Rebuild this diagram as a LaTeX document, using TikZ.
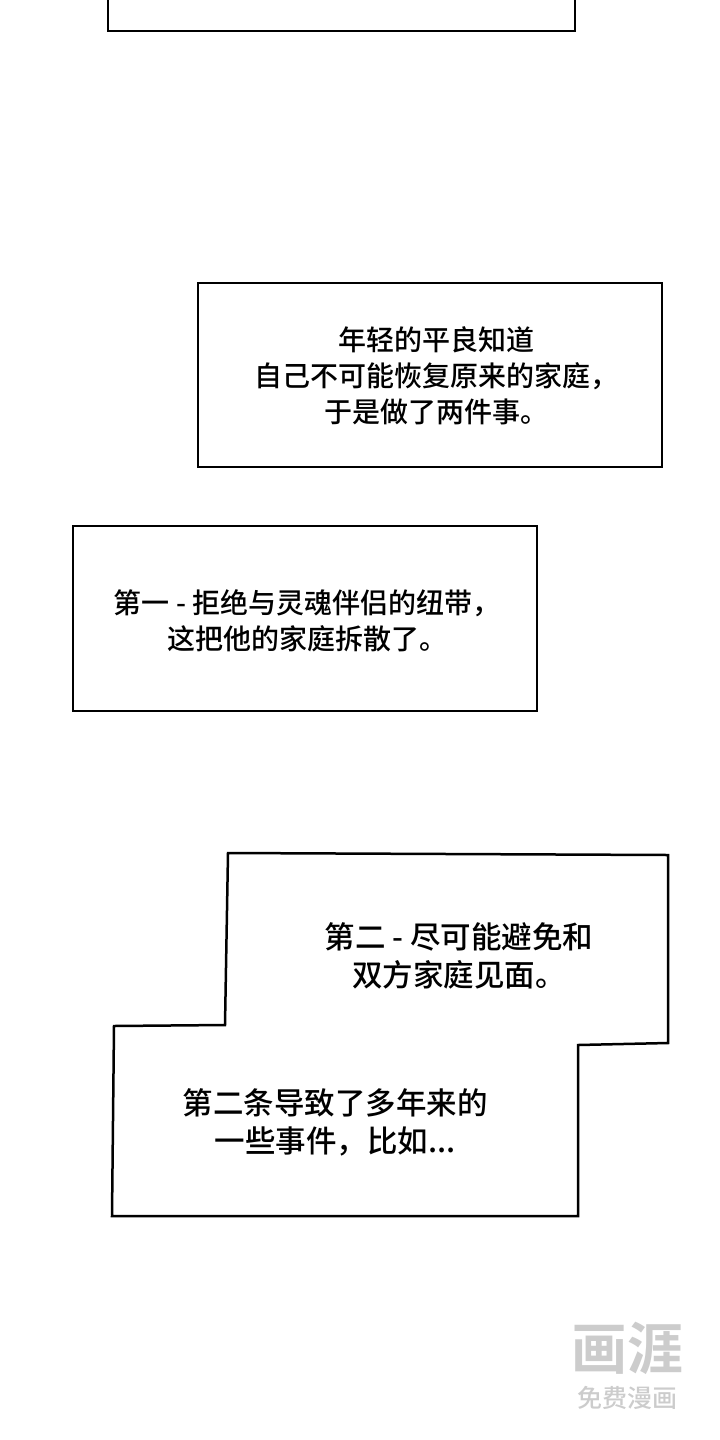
\documentclass[tikz,border=0pt]{standalone}
\usepackage{fontspec}
\setmainfont{Noto Sans CJK SC}[UprightFont=* Medium,BoldFont=* Bold]
\usetikzlibrary{
  positioning,  % Function "of" (e.g. [below=of x])
}
\def\mypanelline{2.5pt}
\tikzset{
  semithick,
  panel/.style={
    draw,
    line width=\mypanelline,
    line join=miter,
    fill=white
  },
  caption/.style={
    align=center,
    inner sep=0pt,
    font=\fontsize{28}{36}\selectfont
  },
  caption big/.style={
    caption,
    font=\fontsize{30.5}{38}\selectfont
  },
  % Watermark in the lower right corner
  mark text/.style={
    inner sep=0pt,
    text=black!20
  }
}
\begin{document}
\begin{tikzpicture}[x=1pt,y=-1pt]
\useasboundingbox (0,0) rectangle (720,1440);
% panels
\draw[panel] (108,-6) rectangle (575,31);
\draw[panel] (198,283) rectangle (662,467);
\draw[panel] (73,526) rectangle (537,711);
\draw[panel] (228,853) -- (668,855) -- (668,1043) -- (578,1045)
  -- (578,1216) -- (112,1216) -- (114,1026) -- (225,1025) -- cycle;
% captions
\node[caption] (young) at (436,376)
  {年轻的平良知道\\自己不可能恢复原来的家庭，\\于是做了两件事。};
\node[caption] (first) at (307,621)
  {第一 - 拒绝与灵魂伴侣的纽带，\\这把他的家庭拆散了。};
\node[caption big] (second) at (459,956)
  {第二 - 尽可能避免和\\双方家庭见面。};
\node[caption big] (result) at (335,1122)
  {第二条导致了多年来的\\一些事件，比如...};
% watermark
\node[mark text,font=\fontsize{56}{56}\bfseries] (logo) at (627,1348) {画涯};
\node[mark text,font=\fontsize{25}{25}\selectfont,below=12pt of logo] (free) {免费漫画};
\end{tikzpicture}
\end{document}
